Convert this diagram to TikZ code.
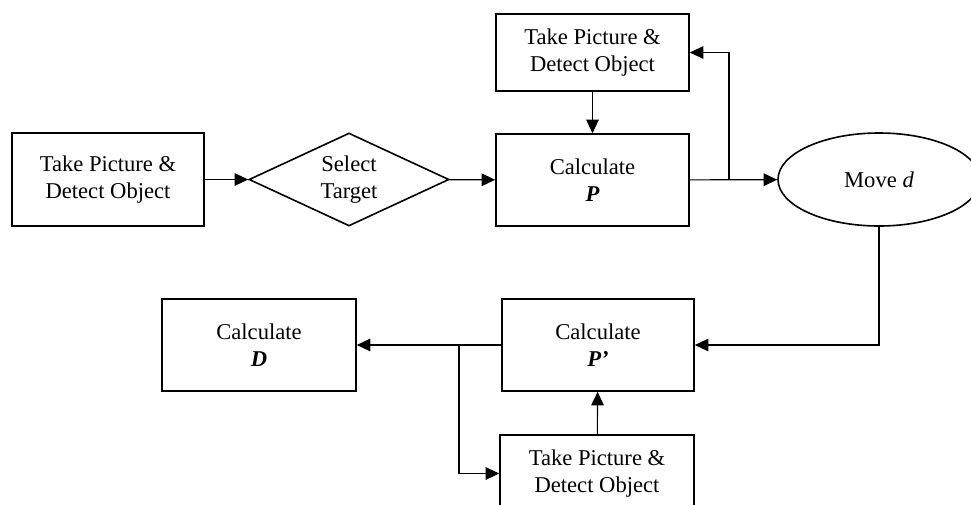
\documentclass[tikz,border=0pt]{standalone}
\usepackage{fontspec}
\setmainfont{Liberation Serif}
\usetikzlibrary{shapes.geometric,arrows.meta}

\begin{document}
\begin{tikzpicture}[x=1pt, y=-1pt,
    box/.style={draw, line width=1.6pt, align=center, inner sep=0pt},
    decide/.style={draw, diamond, aspect=2.15, line width=1.6pt, align=center, inner sep=0pt,
      minimum width=200pt, minimum height=93pt},
    ellip/.style={draw, ellipse, line width=1.6pt, inner sep=0pt,
      minimum width=202pt, minimum height=93pt},
    link/.style={line width=1.1pt, -{Triangle[length=13.5pt,width=12.5pt]}}]

  \fontsize{22.6}{27}\selectfont

  \useasboundingbox (0,0) rectangle (971,504);
  \clip (0,0) rectangle (971,504);

  % top row
  \node[box, minimum width=192pt, minimum height=93pt] (take1) at (108,179.5)
    {Take Picture \&\\Detect Object};
  \node[decide] (select) at (349,179.5) {Select\\Target};
  \node[box, minimum width=193pt, minimum height=92pt] (calcP) at (592.5,180)
    {Calculate\\\textbf{\textit{P}}};
  \node[box, minimum width=193pt, minimum height=77pt] (takeTop) at (592.5,52.5)
    {Take Picture \&\\Detect Object};
  \node[ellip] (move) at (879,179.5) {Move \textit{d}};

  % bottom row
  \node[box, minimum width=192pt, minimum height=92pt] (calcPp) at (598,345)
    {Calculate\\\textbf{\textit{P’}}};
  \node[box, minimum width=194pt, minimum height=92pt] (calcD) at (259,345)
    {Calculate\\\textbf{\textit{D}}};
  \node[box, minimum width=194pt, minimum height=77pt] (takeBot) at (597,473.5)
    {Take Picture \&\\Detect Object};

  \coordinate (forkP) at (729,179.5);
  \coordinate (forkPp) at (459,345);

  \draw[link] (take1) -- (select);
  \draw[link] (select) -- (calcP);
  \draw[link] (takeTop) -- (calcP);
  \draw[link] (calcP) -- (move); %% P -> move
  \draw[link] (forkP) |- (takeTop.east);
  \draw[link] (move.south) |- (calcPp.east);
  \draw[link] (calcPp) -- (calcD); %% P' -> D
  \draw[link] (forkPp) |- (takeBot.west);
  \draw[link] (takeBot) -- (calcPp);
\end{tikzpicture}
\end{document}
